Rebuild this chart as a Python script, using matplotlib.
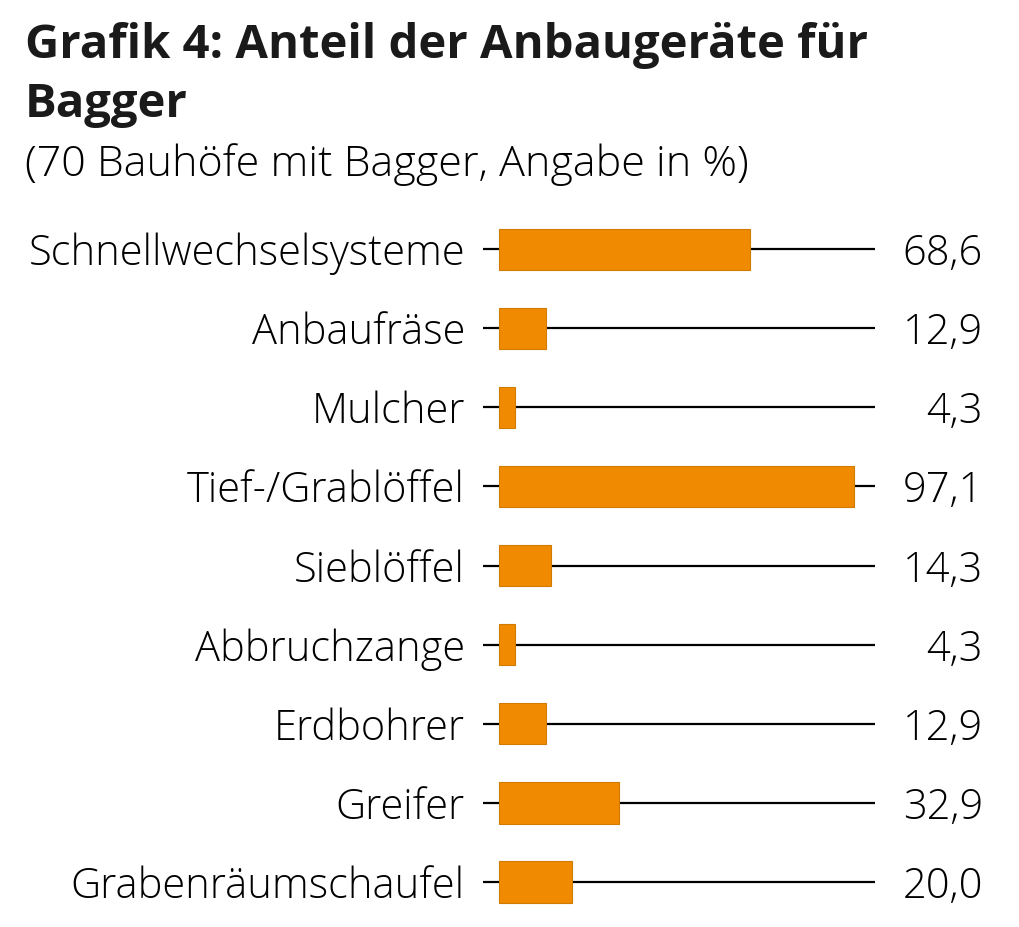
import matplotlib.pyplot as plt

categories = ["Schnellwechselsysteme", "Anbaufräse", "Mulcher", "Tief-/Grablöffel",
              "Sieblöffel", "Abbruchzange", "Erdbohrer", "Greifer", "Grabenräumschaufel"]
values = [68.6, 12.9, 4.3, 97.1, 14.3, 4.3, 12.9, 32.9, 20.0]
value_labels = ["68,6", "12,9", "4,3", "97,1", "14,3", "4,3", "12,9", "32,9", "20,0"]

W, H = 1020, 928
fig = plt.figure(figsize=(W / 100, H / 100), dpi=100)

# axes placed in pixel terms: x from 483 to 875 px, rows centred 250..883 px
ax = fig.add_axes([483 / W, 1 - 922.6 / H, 392 / W, 712 / H])
ax.set_xlim(-4.4, 102.8)
ax.set_ylim(len(categories) - 0.5, -0.5)
ax.axis("off")

ys = list(range(len(categories)))
ax.hlines(ys, -4.4, 102.8, color="black", lw=1.6, zorder=1)
ax.barh(ys, values, height=0.52, color="#F08A00", edgecolor="#D07A00", lw=0.8, zorder=2)

font = "Open Sans"
for y, cat, lab in zip(ys, categories, value_labels):
    ax.annotate(cat, (-4.4, y), xytext=(-18, -15), textcoords="offset pixels",
                ha="right", va="baseline", fontsize=30, family=font, weight="light")
    ax.annotate(lab, (102.8, y), xytext=(108, -15), textcoords="offset pixels",
                ha="right", va="baseline", fontsize=30, family=font, weight="light")

fig.text(25 / W, 1 - 58 / H, "Grafik 4: Anteil der Anbaugeräte für",
         ha="left", va="baseline", fontsize=34, family=font, weight="bold", color="#1a1a1a")
fig.text(25 / W, 1 - 117 / H, "Bagger",
         ha="left", va="baseline", fontsize=34, family=font, weight="bold", color="#1a1a1a")
fig.text(25 / W, 1 - 176 / H, "(70 Bauhöfe mit Bagger, Angabe in %)",
         ha="left", va="baseline", fontsize=31, family=font, weight="light")

fig.savefig("out.png", dpi=100)
